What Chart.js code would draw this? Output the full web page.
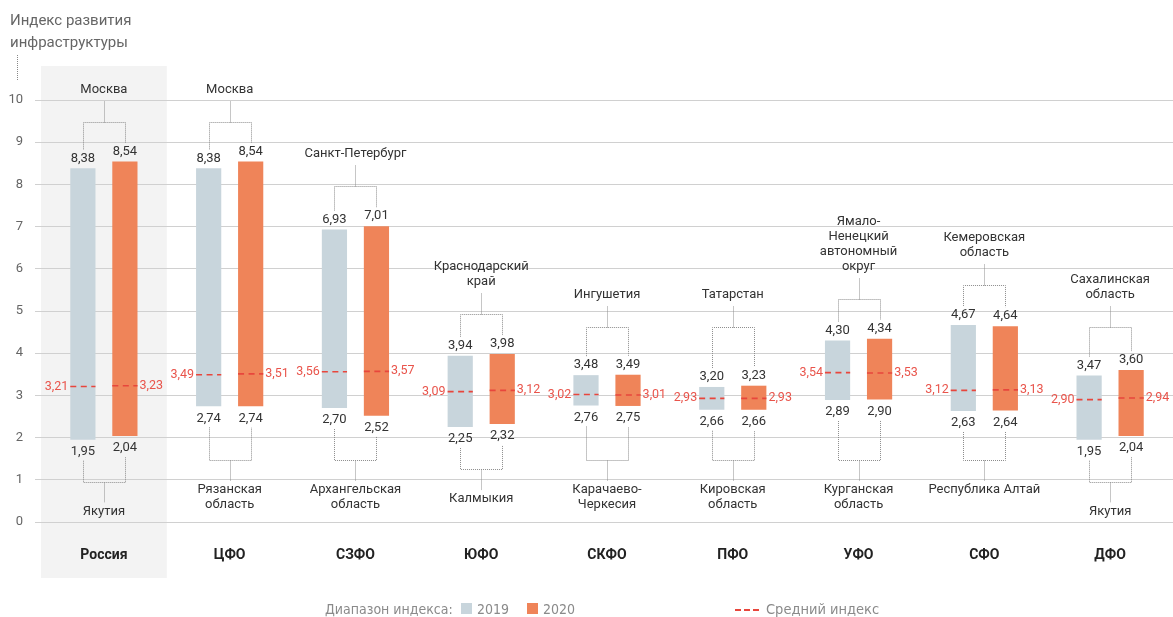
<!DOCTYPE html>
<html>
<head>
<meta charset="utf-8">
<script src="https://cdn.jsdelivr.net/npm/chart.js@4.4.1/dist/chart.umd.min.js"></script>
<style>
  body{margin:0;background:#fff;}
  #wrap{position:relative;width:1173px;height:617px;overflow:hidden;}
  #c{position:absolute;left:0;top:0;}
  .title{position:absolute;left:10px;top:9px;font:15px Roboto,sans-serif;color:#666;line-height:22px;}
  .dots{position:absolute;left:17px;top:55px;height:25px;border-left:1px dotted #888;}
  .lg{position:absolute;top:600px;font:14px "Liberation Sans Narrow","DejaVu Sans Condensed",sans-serif;color:#8a8a8a;line-height:18px;white-space:nowrap;}
  .sq{position:absolute;top:603px;width:11px;height:11px;z-index:2;}
  .dash{position:absolute;top:609px;width:24px;border-top:2px dashed #e8463c;}
</style>
</head>
<body>
<div id="wrap">
  <canvas id="c" width="1173" height="617"></canvas>
  <div class="title">Индекс развития<br>инфраструктуры</div>
  <div class="dots"></div>
  <div class="lg" style="left:325px">Диапазон индекса:</div>
  <div class="sq" style="left:461px;background:#c8d5dc"></div>
  <div class="lg" style="left:477px">2019</div>
  <div class="sq" style="left:527px;background:#ef8459"></div>
  <div class="lg" style="left:543px">2020</div>
  <div class="dash" style="left:735px"></div>
  <div class="lg" style="left:766px;font-size:14.5px">Средний индекс</div>
</div>
<script>
const districts = ["Россия","ЦФО","СЗФО","ЮФО","СКФО","ПФО","УФО","СФО","ДФО"];
const low2019  = [1.95, 2.74, 2.70, 2.25, 2.76, 2.66, 2.89, 2.63, 1.95];
const high2019 = [8.38, 8.38, 6.93, 3.94, 3.48, 3.20, 4.30, 4.67, 3.47];
const low2020  = [2.04, 2.74, 2.52, 2.32, 2.75, 2.66, 2.90, 2.64, 2.04];
const high2020 = [8.54, 8.54, 7.01, 3.98, 3.49, 3.23, 4.34, 4.64, 3.60];
const mean2019 = [3.21, 3.49, 3.56, 3.09, 3.02, 2.93, 3.54, 3.12, 2.90];
const mean2020 = [3.23, 3.51, 3.57, 3.12, 3.01, 2.93, 3.53, 3.13, 2.94];
const topRegion = ["Москва","Москва","Санкт-Петербург","Краснодарский\nкрай","Ингушетия","Татарстан",
  "Ямало-\nНенецкий\nавтономный\nокруг","Кемеровская\nобласть","Сахалинская\nобласть"];
const bottomRegion = ["Якутия","Рязанская\nобласть","Архангельская\nобласть","Калмыкия","Карачаево-\nЧеркесия",
  "Кировская\nобласть","Курганская\nобласть","Республика Алтай","Якутия"];

const GRAY = "#c8d5dc", ORANGE = "#ef8459", RED = "#e8463c";
const fmt = v => v.toFixed(2).replace(".", ",");

const annot = {
  id: "annot",
  beforeDraw(chart){
    const {ctx, scales:{x}} = chart;
    const half = (x.getPixelForValue(1) - x.getPixelForValue(0)) / 2;
    const cx = x.getPixelForValue(0);
    ctx.save();
    ctx.fillStyle = "#f3f3f3";
    ctx.fillRect(cx - half, 66, half * 2, 512);
    ctx.restore();
  },
  afterDatasetsDraw(chart){
    const {ctx, scales:{x, y}} = chart;
    const m0 = chart.getDatasetMeta(0).data, m1 = chart.getDatasetMeta(1).data;
    ctx.save();
    ctx.textBaseline = "middle";
    districts.forEach((d, i) => {
      const b0 = m0[i], b1 = m1[i];
      const w = b0.width;
      const l0 = b0.x - w/2, r0 = b0.x + w/2, l1 = b1.x - w/2, r1 = b1.x + w/2;
      const cx = x.getPixelForValue(i);

      // mean lines
      ctx.strokeStyle = RED; ctx.lineWidth = 1.6; ctx.setLineDash([6,4.5]);
      const my = y.getPixelForValue(mean2019[i]);
      ctx.beginPath(); ctx.moveTo(l0, my); ctx.lineTo(r0, my); ctx.stroke();
      const my1 = y.getPixelForValue(mean2020[i]);
      ctx.beginPath(); ctx.moveTo(l1, my1); ctx.lineTo(r1, my1); ctx.stroke();
      ctx.setLineDash([]);
      ctx.font = "12.5px Roboto"; ctx.fillStyle = "#e9544b";
      ctx.textAlign = "right"; ctx.fillText(fmt(mean2019[i]), l0 - 2, my);
      ctx.textAlign = "left"; ctx.fillText(fmt(mean2020[i]), r1 + 2, my1);

      // value labels
      ctx.font = "13px Roboto";
      ctx.fillStyle = "#333"; ctx.textAlign = "center";
      const t0 = y.getPixelForValue(high2019[i]) - 10, t1 = y.getPixelForValue(high2020[i]) - 10;
      const u0 = y.getPixelForValue(low2019[i]) + 12, u1 = y.getPixelForValue(low2020[i]) + 12;
      ctx.fillText(fmt(high2019[i]), b0.x, t0);
      ctx.fillText(fmt(high2020[i]), b1.x, t1);
      ctx.fillText(fmt(low2019[i]), b0.x, u0);
      ctx.fillText(fmt(low2020[i]), b1.x, u1);

      // brackets: names sit near a common line unless the bars push them away
      const topName = Math.min(Math.min(t0, t1) - 62, 295);
      const botName = Math.max(Math.max(u0, u1) + 60, 490);
      ctx.strokeStyle = "#8c8c8c"; ctx.lineWidth = 1; ctx.setLineDash([1,1]);
      const hT = Math.round(topName + 32) + 0.5;
      const hB = Math.round(botName - 30) + 0.5;
      const xa = Math.round(b0.x) + 0.5, xb = Math.round(b1.x) + 0.5, xc = Math.round(cx) + 0.5;
      ctx.beginPath();
      ctx.moveTo(xa, t0 - 9); ctx.lineTo(xa, hT); ctx.lineTo(xb, hT); ctx.lineTo(xb, t1 - 9);
      ctx.moveTo(xc, hT); ctx.lineTo(xc, topName + 11);
      ctx.moveTo(xa, u0 + 9); ctx.lineTo(xa, hB); ctx.lineTo(xb, hB); ctx.lineTo(xb, u1 + 9);
      ctx.moveTo(xc, hB); ctx.lineTo(xc, botName - 9);
      ctx.stroke();
      ctx.setLineDash([]);

      ctx.fillStyle = "#333";
      const tl = topRegion[i].split("\n");
      tl.forEach((s, k) => ctx.fillText(s, cx, topName - (tl.length - 1 - k) * 15));
      const bl = bottomRegion[i].split("\n");
      bl.forEach((s, k) => ctx.fillText(s, cx, botName + k * 15));
    });
    ctx.restore();
  }
};

new Chart(document.getElementById("c"), {
  type: "bar",
  data: {
    labels: districts,
    datasets: [
      { label: "2019", data: districts.map((_, i) => [low2019[i], high2019[i]]), backgroundColor: GRAY },
      { label: "2020", data: districts.map((_, i) => [low2020[i], high2020[i]]), backgroundColor: ORANGE }
    ]
  },
  options: {
    responsive: false,
    animation: false,
    layout: { padding: { top: 100, right: 0, left: 0, bottom: 0 } },
    datasets: { bar: { categoryPercentage: 0.668, barPercentage: 0.6, borderSkipped: false, borderWidth: 0 } },
    plugins: { legend: { display: false }, tooltip: { enabled: false } },
    scales: {
      x: {
        grid: { display: false },
        border: { display: false },
        ticks: { color: "#222", font: { family: "Roboto", size: 14, weight: "bold" }, padding: 17 },
        afterFit(s){ s.height = 95; }
      },
      y: {
        min: 0, max: 10,
        grid: { color: "#d0d0d0", tickLength: 6 },
        border: { display: false },
        ticks: { stepSize: 1, color: "#666", font: { family: "Roboto", size: 13 }, padding: 12 },
        afterFit(s){ s.width = 41; }
      }
    }
  },
  plugins: [annot]
});
</script>
</body>
</html>
